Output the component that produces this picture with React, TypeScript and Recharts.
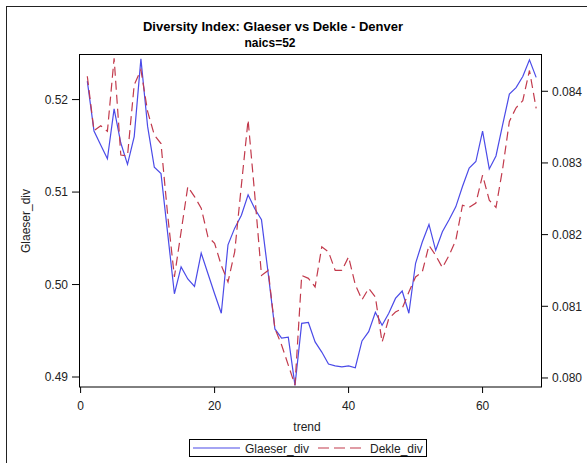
import React from 'react';
import { LineChart, Line, XAxis, YAxis } from 'recharts';

// trend index (x)
const trend = [
  1, 2, 3, 4, 5, 6, 7, 8, 9, 10, 11, 12, 13, 14, 15, 16, 17,
  18, 19, 20, 21, 22, 23, 24, 25, 26, 27, 28, 29, 30, 31, 32, 33, 34,
  35, 36, 37, 38, 39, 40, 41, 42, 43, 44, 45, 46, 47, 48, 49, 50, 51,
  52, 53, 54, 55, 56, 57, 58, 59, 60, 61, 62, 63, 64, 65, 66, 67, 68,
];

// Glaeser diversity index (left axis)
const glaeserDiv = [
  0.5220, 0.5166, 0.5151, 0.5136, 0.5190, 0.5153, 0.5130, 0.5160, 0.5244, 0.5171,
  0.5127, 0.5120, 0.5055, 0.4990, 0.5019, 0.5006, 0.4998, 0.5034, 0.5012, 0.4990,
  0.4969, 0.5043, 0.5061, 0.5075, 0.5097, 0.5082, 0.5070, 0.5012, 0.4952, 0.4942,
  0.4943, 0.4891, 0.4958, 0.4959, 0.4938, 0.4927, 0.4914, 0.4912, 0.4911, 0.4912,
  0.4910, 0.4939, 0.4949, 0.4970, 0.4956, 0.4969, 0.4985, 0.4993, 0.4969, 0.5023,
  0.5046, 0.5065, 0.5037, 0.5057, 0.5070, 0.5084, 0.5106, 0.5126, 0.5133, 0.5166,
  0.5125, 0.5139, 0.5173, 0.5206, 0.5213, 0.5225, 0.5243, 0.5224,
];

// Dekle diversity index (right axis)
const dekleDiv = [
  0.08421, 0.08345, 0.08352, 0.08344, 0.08446, 0.08311, 0.08310, 0.08409, 0.08430, 0.08372,
  0.08339, 0.08327, 0.08227, 0.08141, 0.08204, 0.08267, 0.08253, 0.08237, 0.08197, 0.08188,
  0.08157, 0.08134, 0.08176, 0.08269, 0.08360, 0.08255, 0.08143, 0.08150, 0.08069, 0.08046,
  0.08018, 0.07990, 0.08143, 0.08139, 0.08127, 0.08183, 0.08176, 0.08150, 0.08150, 0.08169,
  0.08130, 0.08109, 0.08125, 0.08113, 0.08050, 0.08083, 0.08092, 0.08097, 0.08120, 0.08141,
  0.08148, 0.08185, 0.08171, 0.08154, 0.08171, 0.08192, 0.08241, 0.08238, 0.08244, 0.08283,
  0.08248, 0.08238, 0.08292, 0.08358, 0.08377, 0.08387, 0.08429, 0.08376,
];

const xTicks = [0, 20, 40, 60];
const leftTicks = [0.49, 0.5, 0.51, 0.52];
const rightTicks = [0.08, 0.081, 0.082, 0.083, 0.084];

const data = trend.map((t, i) => ({ trend: t, Glaeser_div: glaeserDiv[i], Dekle_div: dekleDiv[i] }));

const FONT = '"Liberation Sans", Arial, sans-serif';
const BLUE = '#4b4be8';
const RED = '#c23a4c';
const tickStyle = { fontSize: 12, fill: '#222', fontFamily: FONT };

const App: React.FC = () => {
  return (
    <div style={{ position: 'absolute', left: 0, top: 0, width: 587, height: 463, background: '#fff' }}>
      <LineChart
        width={587}
        height={463}
        data={data}
        margin={{ top: 54, right: 5, bottom: 46, left: 19 }}
      >
        <XAxis
          dataKey="trend"
          type="number"
          domain={[-0.24, 68.87]}
          ticks={xTicks}
          height={30}
          axisLine={false}
          tickLine={{ stroke: '#000' }}
          tickSize={6}
          tickMargin={8}
          tick={tickStyle}
        />
        <YAxis
          yAxisId="left"
          domain={[0.48892, 0.52493]}
          ticks={leftTicks}
          width={60}
          axisLine={false}
          tickLine={{ stroke: '#000' }}
          tickSize={7}
          tickMargin={4}
          tick={tickStyle}
          tickFormatter={(v: number) => v.toFixed(2)}
        />
        <YAxis
          yAxisId="right"
          orientation="right"
          domain={[0.079874, 0.08452]}
          ticks={rightTicks}
          width={40}
          axisLine={false}
          tickLine={{ stroke: '#000' }}
          tickSize={6}
          tickMargin={4}
          tick={tickStyle}
          tickFormatter={(v: number) => v.toFixed(3)}
        />
        <Line
          yAxisId="left"
          dataKey="Glaeser_div"
          stroke={BLUE}
          strokeWidth={1.2}
          dot={false}
          isAnimationActive={false}
        />
        <Line
          yAxisId="right"
          dataKey="Dekle_div"
          stroke={RED}
          strokeWidth={1.2}
          strokeDasharray="9 5"
          dot={false}
          isAnimationActive={false}
        />
      </LineChart>
      <svg
        width={587}
        height={463}
        style={{ position: 'absolute', left: 0, top: 0, pointerEvents: 'none' }}
        fontFamily={FONT}
      >
        {/* outer border */}
        <rect x={6.5} y={6.5} width={700} height={700} fill="none" stroke="#222" strokeWidth={1} />
        {/* plot frame */}
        <rect x={79.5} y={54.5} width={462} height={332.5} fill="none" stroke="#000" strokeWidth={1} />
        <text x={273} y={31} textAnchor="middle" fontSize={13} fontWeight="bold" fill="#000">
          Diversity Index: Glaeser vs Dekle - Denver
        </text>
        <text x={270} y={46.5} textAnchor="middle" fontSize={12} fontWeight="bold" fill="#000">
          naics=52
        </text>
        <text x={30} y={221} textAnchor="middle" fontSize={12} fill="#222" transform="rotate(-90 30 221)">
          Glaeser_div
        </text>
        <text x={307} y={431} textAnchor="middle" fontSize={12} fill="#222">
          trend
        </text>
        {/* legend */}
        <rect x={189.5} y={439.5} width={237} height={17} fill="#fff" stroke="#000" strokeWidth={1} />
        <line x1={193} y1={448} x2={240} y2={448} stroke={BLUE} strokeWidth={1.2} />
        <text x={245} y={452.5} fontSize={12} fill="#222">Glaeser_div</text>
        <line x1={318} y1={448} x2={362} y2={448} stroke={RED} strokeWidth={1.2} strokeDasharray="11 5" />
        <text x={370} y={452.5} fontSize={12} fill="#222">Dekle_div</text>
      </svg>
    </div>
  );
};

export default App;
